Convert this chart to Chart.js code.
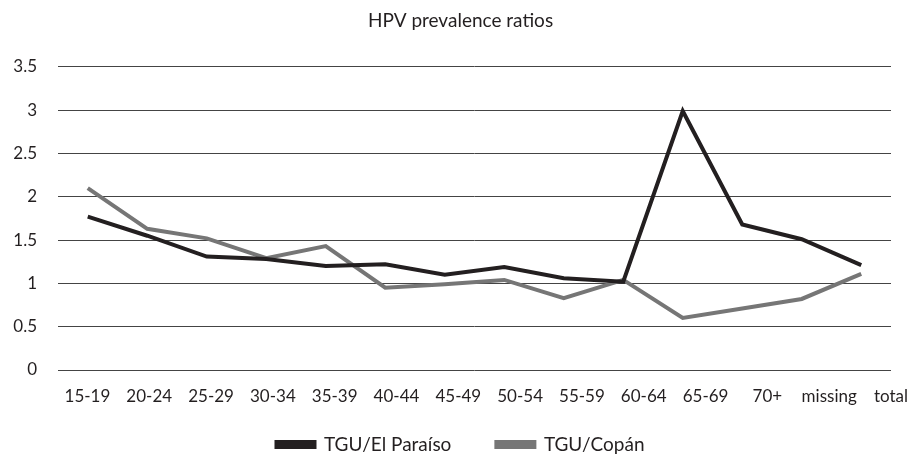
<!DOCTYPE html>
<html>
<head>
<meta charset="utf-8">
<script src="https://cdn.jsdelivr.net/npm/chart.js@4"></script>
<style>
html,body{margin:0;padding:0;background:#fff;}
#wrap{width:915px;height:459px;position:relative;}
</style>
</head>
<body>
<div id="wrap"><canvas id="c" width="915" height="459"></canvas></div>
<script>
const categories = ["15-19","20-24","25-29","30-34","35-39","40-44","45-49","50-54","55-59","60-64","65-69","70+","missing","total"];
const elParaiso = [1.77,1.55,1.31,1.28,1.20,1.22,1.10,1.19,1.06,1.02,2.99,1.68,1.51,1.21];
const copan = [2.10,1.63,1.52,1.29,1.43,0.95,0.99,1.04,0.83,1.04,0.60,0.71,0.82,1.11];
const yTicks = [0,0.5,1,1.5,2,2.5,3,3.5];

const FONT = "Lato, 'Open Sans', sans-serif";
const INK = '#231f20';
const labelRoom = {
  id: 'labelRoom',
  afterLayout(chart) { const s = chart.scales.xl; s.bottom = s.top + 40; }
};
new Chart(document.getElementById('c'), {
  type: 'line',
  data: {
    labels: categories,
    datasets: [
      {label: 'TGU/El Paraíso', data: elParaiso, borderColor: INK, backgroundColor: INK, borderWidth: 4, pointRadius: 0, tension: 0},
      {label: 'TGU/Copán', data: copan, borderColor: '#767676', backgroundColor: '#767676', borderWidth: 4, pointRadius: 0, tension: 0}
    ]
  },
  plugins: [labelRoom],
  options: {
    responsive: false,
    animation: false,
    layout: {padding: {left: 6, right: 0, top: 0, bottom: -5}},
    plugins: {
      title: {display: true, text: 'HPV prevalence ratios', color: INK, font: {family: FONT, size: 19, weight: 'normal'}, padding: {top: 9, bottom: 35}},
      legend: {position: 'bottom', labels: {color: INK, font: {family: FONT, size: 19}, boxWidth: 38, boxHeight: 5, padding: 45}},
      tooltip: {enabled: false}
    },
    scales: {
      x: {
        display: false,
        offset: true
      },
      xl: {
        type: 'linear',
        position: 'bottom',
        min: -0.476, max: 13,
        afterBuildTicks: (ax) => { ax.ticks = categories.map((c, i) => ({value: i})); },
        afterFit: (ax) => { ax.height = 20; ax.paddingLeft = 0; ax.paddingRight = 24; },
        grid: {display: false, drawTicks: false},
        border: {display: false},
        ticks: {color: INK, font: {family: FONT, size: 17}, maxRotation: 0, autoSkip: false, padding: 16,
                callback: (v) => categories[v]}
      },
      y: {
        min: 0, max: 3.5,
        afterBuildTicks: (ax) => { ax.ticks = yTicks.map(v => ({value: v})); },
        afterFit: (ax) => { ax.width = 52; },
        grid: {color: '#444', lineWidth: 1, drawTicks: false},
        border: {display: false},
        ticks: {color: INK, font: {family: FONT, size: 17}, padding: 21, callback: (v) => String(v)}
      }
    }
  }
});
</script>
</body>
</html>
